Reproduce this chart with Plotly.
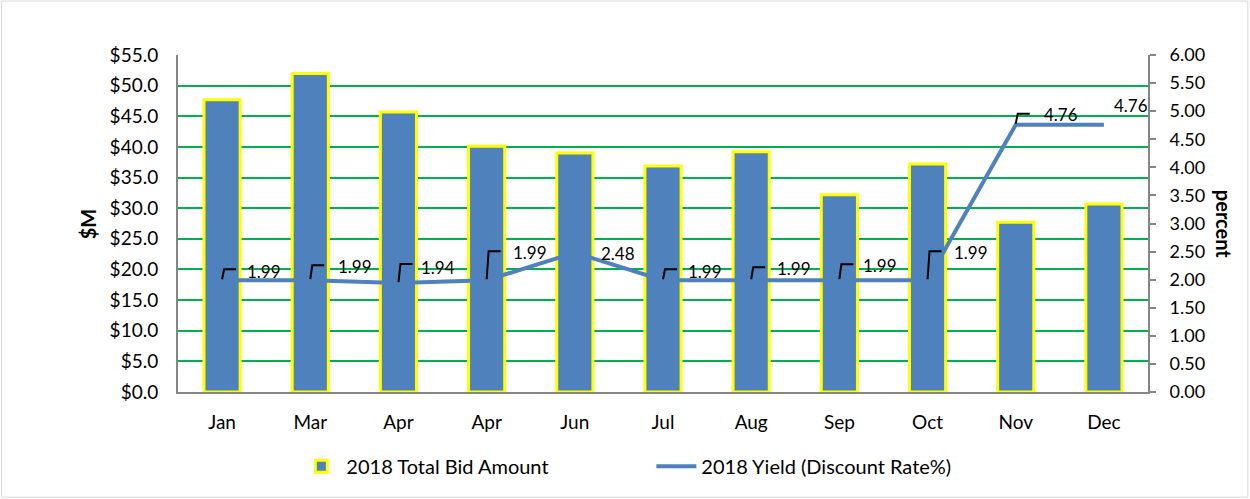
import plotly.graph_objects as go

months = ["Jan", "Mar", "Apr", "Apr", "Jun", "Jul", "Aug", "Sep", "Oct", "Nov", "Dec"]
bid_amount = [47.7, 52.0, 45.7, 40.1, 39.0, 36.9, 39.2, 32.2, 37.2, 27.7, 30.7]
yield_rate = [1.99, 1.99, 1.94, 1.99, 2.48, 1.99, 1.99, 1.99, 1.99, 4.76, 4.76]

left_ticks = [0, 5, 10, 15, 20, 25, 30, 35, 40, 45, 50, 55]
right_ticks = [0, 0.5, 1, 1.5, 2, 2.5, 3, 3.5, 4, 4.5, 5, 5.5, 6]

# label placement (pixel offsets from the point) and leader line (elbow) heights
label_dx = [23, 26, 21, 24, 24, 23, 24, 22, 24, 26, 8]
label_dy = [9, 14, 16, 28, -1, 9, 12, 15, 28, 10, 19]
leader_h = [11, 15, 19, 29, 0, 11, 13, 16, 29, 11, 0]

BLUE = "#4F81BD"
GREEN = "#00B050"
AXIS = "#868686"
FONT = "Lato"

x = list(range(len(months)))

fig = go.Figure()
fig.add_trace(go.Bar(
    x=x, y=bid_amount, name="2018 Total Bid Amount",
    marker=dict(color=BLUE, line=dict(color="#FFFF00", width=3)),
    width=0.41, yaxis="y",
))
fig.add_trace(go.Scatter(
    x=x, y=yield_rate, name="2018 Yield (Discount Rate%)",
    mode="lines", line=dict(color=BLUE, width=4), yaxis="y2",
))

annotations = []
shapes = []
for i, v in enumerate(yield_rate):
    annotations.append(dict(
        x=i, y=v, xref="x", yref="y2", text=f"{v:.2f}", showarrow=False,
        xanchor="left", yanchor="middle", xshift=label_dx[i], yshift=label_dy[i],
        font=dict(family=FONT, size=17, color="#000000"),
    ))
    h = leader_h[i]
    if h:
        shapes.append(dict(
            type="path", xref="x", yref="y2", xsizemode="pixel", ysizemode="pixel",
            xanchor=i, yanchor=v,
            path=f"M 0 1 L 2 {h} L 14 {h}",
            line=dict(color="#000000", width=2),
        ))

annotations.append(dict(
    x=-0.093, y=0.5, xref="paper", yref="paper", text="<b>$M</b>", textangle=-90,
    xanchor="center", yanchor="middle",
    showarrow=False, font=dict(family=FONT, size=20, color="#000000"),
))
annotations.append(dict(
    x=1.079, y=0.5, xref="paper", yref="paper", text="<b>percent</b>", textangle=90,
    xanchor="center", yanchor="middle",
    showarrow=False, font=dict(family=FONT, size=20, color="#000000"),
))

# outer chart border
shapes.append(dict(
    type="rect", xref="paper", yref="paper",
    x0=-0.182, x1=1.103, y0=-0.312, y1=1.160,
    line=dict(color="#D9D9D9", width=1), layer="below",
))

fig.update_layout(
    width=1250, height=499,
    margin=dict(l=178, r=102, t=55, b=107),
    paper_bgcolor="white", plot_bgcolor="white",
    font=dict(family=FONT, size=18, color="#000000"),
    showlegend=True,
    legend=dict(
        orientation="h", x=0.488, xanchor="center", y=-0.22, yanchor="middle",
        font=dict(family=FONT, size=20), itemwidth=40, entrywidth=300,
    ),
    xaxis=dict(
        range=[-0.5, len(months) - 0.5], tickmode="array", tickvals=x, ticktext=months,
        showgrid=False, showline=True, linecolor=AXIS, linewidth=2,
        ticks="outside", ticklen=12, tickcolor="rgba(0,0,0,0)", zeroline=False,
        tickfont=dict(size=19),
    ),
    yaxis=dict(
        range=[0, 55], tickmode="array", tickvals=left_ticks,
        ticktext=[f"${t:.1f}" for t in left_ticks], tickfont=dict(size=19),
        showgrid=True, gridcolor=GREEN, gridwidth=2,
        showline=True, linecolor=AXIS, linewidth=2, zeroline=False,
        ticks="outside", ticklen=14, tickcolor="rgba(0,0,0,0)",
    ),
    yaxis2=dict(
        range=[0, 6], tickmode="array", tickvals=right_ticks, tickformat=".2f",
        overlaying="y", side="right", showgrid=False,
        showline=True, linecolor=AXIS, linewidth=2, zeroline=False,
        ticks="outside", ticklen=6, tickcolor=AXIS, tickwidth=2,
        ticklabelstandoff=10,
    ),
    annotations=annotations,
    shapes=shapes,
)

fig.write_html(
    "out.html",
    config={"displayModeBar": False},
    post_script="document.body.style.margin='0px';document.body.style.overflow='hidden';",
)
